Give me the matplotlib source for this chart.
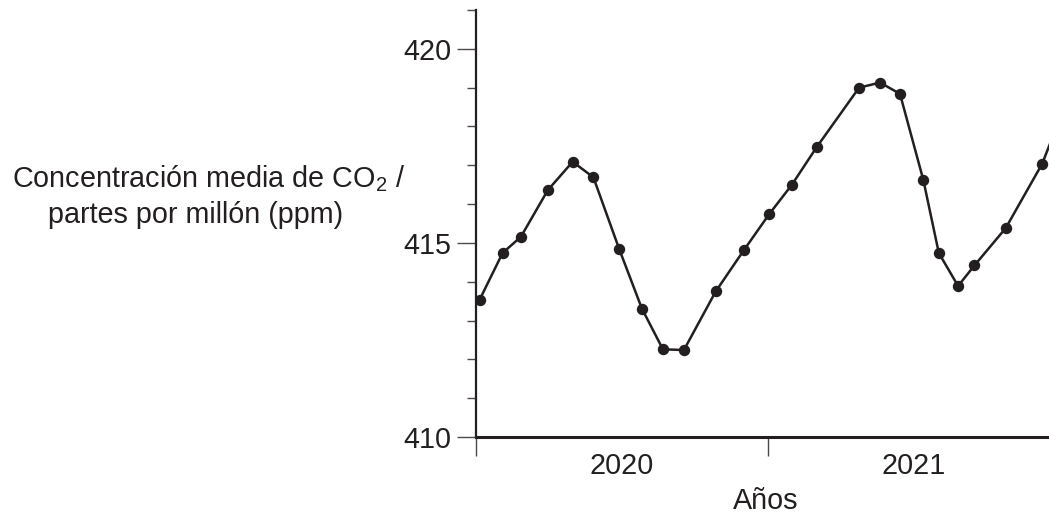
import matplotlib
matplotlib.use("Agg")
import matplotlib.pyplot as plt
from matplotlib.ticker import FixedLocator, NullFormatter

plt.rcParams['font.family'] = ['Liberation Sans', 'DejaVu Sans']
plt.rcParams['mathtext.fontset'] = 'custom'
plt.rcParams['mathtext.rm'] = 'Liberation Sans'
plt.rcParams['mathtext.it'] = 'Liberation Sans'

# data: decimal years and CO2 ppm
years = [2020.012, 2020.091, 2020.154, 2020.246, 2020.331, 2020.402, 2020.490,
         2020.568, 2020.640, 2020.712, 2020.821, 2020.918, 2021.004, 2021.081,
         2021.167, 2021.312, 2021.384, 2021.452, 2021.532, 2021.585, 2021.651,
         2021.707, 2021.814, 2021.939, 2022.02]
co2 = [413.53, 414.74, 415.16, 416.36, 417.09, 416.69, 414.85,
       413.31, 412.26, 412.24, 413.75, 414.82, 415.74, 416.49,
       417.47, 419.00, 419.13, 418.84, 416.62, 414.74, 413.89,
       414.42, 415.38, 417.04, 418.6]
year_labels = ["2020", "2021"]
year_label_pos = [2020.5, 2021.5]
year_bounds = [2020, 2021]

ink = '#231f20'
tickc = '#4a4a4a'
fs = 20.7
fig = plt.figure(figsize=(10.49, 5.2), dpi=100)
ax = fig.add_axes([476/1049, 1-437/520, 1-476/1049, (437-10)/520])

ax.plot(years, co2, color=ink, lw=1.8, marker='o', ms=7.2, mfc=ink, mec=ink,
        clip_on=True)

ax.set_xlim(2020, 2020 + (1049-476)/292)
ax.set_ylim(410, 421)

for s in ['top', 'right']:
    ax.spines[s].set_visible(False)
ax.spines['left'].set_linewidth(1.6)
ax.spines['bottom'].set_linewidth(2.2)
ax.spines['left'].set_color(ink)
ax.spines['bottom'].set_color(ink)

ax.yaxis.set_major_locator(FixedLocator([410, 415, 420]))
ax.yaxis.set_minor_locator(FixedLocator(list(range(410, 422))))
ax.tick_params(axis='y', which='major', length=14, width=1.0, color=tickc,
               labelsize=fs, pad=4, labelcolor=ink)
ax.tick_params(axis='y', which='minor', length=6.8, width=1.0, color=tickc)

ax.xaxis.set_major_locator(FixedLocator(year_bounds))
ax.xaxis.set_major_formatter(NullFormatter())
ax.xaxis.set_minor_locator(FixedLocator(year_label_pos))
ax.set_xticklabels(year_labels, minor=True)
ax.tick_params(axis='x', which='major', length=14, width=1.0, color=tickc)
ax.tick_params(axis='x', which='minor', length=0, labelsize=fs, pad=11,
               labelcolor=ink)

fig.text(766/1049, 1-501/520, "Años", ha='center', va='center', fontsize=fs,
         color=ink)
fig.text(209/1049, 1-179/520, "Concentración media de CO$_2$ /", ha='center',
         va='center', fontsize=fs, color=ink)
fig.text(196/1049, 1-215/520, "partes por millón (ppm)", ha='center',
         va='center', fontsize=fs, color=ink)

fig.savefig("out.png", dpi=100)
